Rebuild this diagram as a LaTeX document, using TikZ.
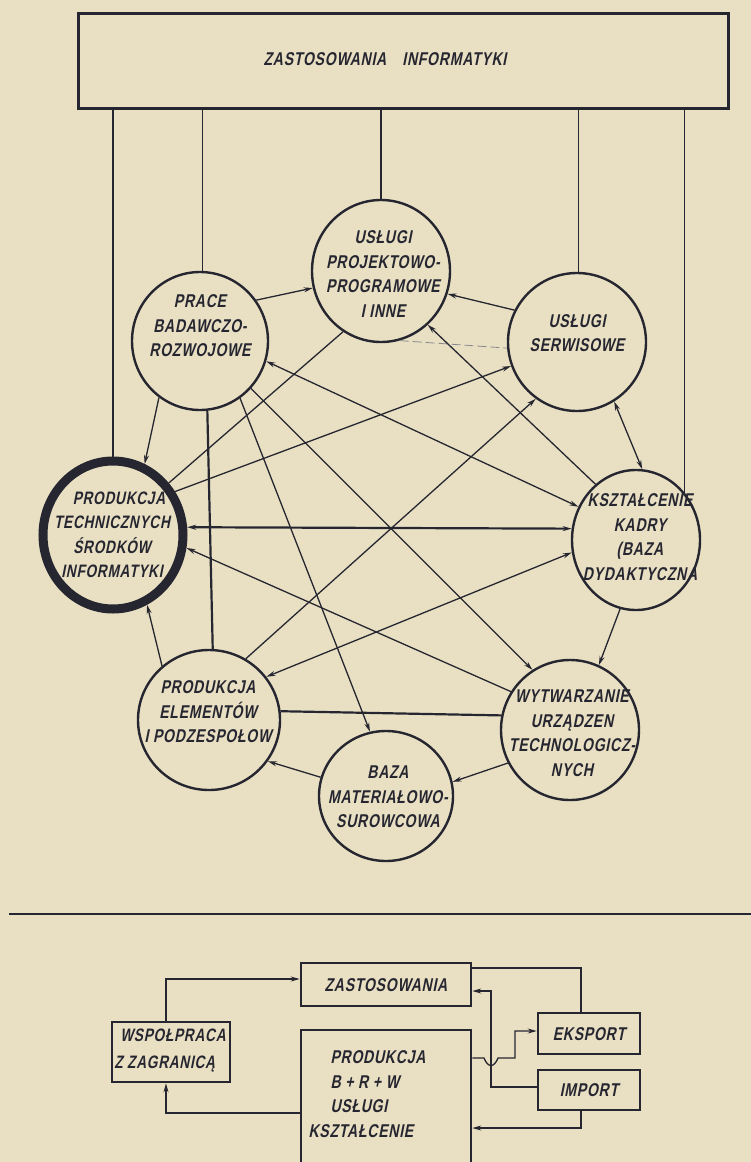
\documentclass[tikz,border=0pt]{standalone}
\usepackage{fontspec}
\setmainfont{Liberation Sans}
\newfontfamily\lett{Liberation Sans Bold}[FakeSlant=0.2,FakeStretch=0.76,LetterSpace=4]
\usetikzlibrary{shapes.geometric,arrows.meta,calc}
\definecolor{paper}{RGB}{233,224,196}
\definecolor{ink}{RGB}{38,38,48}
\begin{document}
\begin{tikzpicture}[x=1pt,y=-1pt,
  bub/.style={draw=ink, ellipse, line width=2.4pt, inner sep=0pt},
  lbl/.style={font=\lett\fontsize{18.5}{24.5}\selectfont, align=center, text=ink, inner sep=0pt},
  bx/.style={draw=ink, line width=2.6pt, inner sep=0pt},
  ln/.style={draw=ink, line width=1.3pt},
  thk/.style={draw=ink, line width=2.2pt},
  arr/.style={-{Stealth[length=9pt,width=5pt]}},
  darr/.style={{Stealth[length=9pt,width=5pt]}-{Stealth[length=9pt,width=5pt]}},
  dashln/.style={draw=ink!55, line width=0.8pt, dash pattern=on 9pt off 4pt}]
\fill[paper] (0,0) rectangle (751,1162);
\useasboundingbox (0,0) rectangle (751,1162);

% top box
\node[bx, line width=3pt, minimum width=650pt, minimum height=95pt] (top) at (403,60.5) {};
\node[lbl] (topt) at (385,59) {ZASTOSOWANIA\hspace{16pt}INFORMATYKI};

% circles
\node[bub, minimum width=138pt, minimum height=142pt] (pp) at (381,271) {};
\node[bub, minimum width=136pt, minimum height=138pt] (pr) at (200,341) {};
\node[bub, minimum width=138pt, minimum height=138pt] (se) at (577,342) {};
\node[bub, line width=9pt, minimum width=140pt, minimum height=148pt] (ts) at (113,535) {};
\node[bub, minimum width=128pt, minimum height=140pt] (ks) at (636,540) {};
\node[bub, minimum width=142pt, minimum height=140pt] (el) at (209,720) {};
\node[bub, minimum width=138pt, minimum height=140pt] (wy) at (570,730) {};
\node[bub, minimum width=134pt, minimum height=130pt] (bz) at (386,796) {};

\node[lbl] (ppt) at (383,274) {USŁUGI\\PROJEKTOWO-\\PROGRAMOWE\\I INNE};
\node[lbl] (prt) at (200,326) {PRACE\\BADAWCZO-\\ROZWOJOWE};
\node[lbl] (set) at (577,333) {USŁUGI\\SERWISOWE};
\node[lbl, font=\lett\fontsize{18}{24.5}\selectfont] (tst) at (112,535) {\hspace*{14pt}PRODUKCJA\\TECHNICZNYCH\\ŚRODKÓW\\INFORMATYKI};
\node[lbl] (kst) at (640,537) {KSZTAŁCENIE\\KADRY\\(BAZA\hspace*{30pt}\\DYDAKTYCZNA};
\node[lbl] (elt) at (208,712) {PRODUKCJA\\ELEMENTÓW\\I PODZESPOŁOW};
\node[lbl] (wyt) at (572,733) {WYTWARZANIE\\URZĄDZEN\\TECHNOLOGICZ-\\NYCH};
\node[lbl] (bzt) at (388,797) {BAZA\\MATERIAŁOWO-\\SUROWCOWA};

% lines to top box
\draw[ln] (ts.north) -- (ts.north |- top.south);
\draw[ln] (pr.88) -- (pr.88 |- top.south);
\draw[ln] (pp.north) -- (pp.north |- top.south);
\draw[ln] (se.89) -- (se.89 |- top.south);
\draw[ln] (ks.44) -- (ks.44 |- top.south);

% network
\draw[ln,arr] (pr.36) -- (pp.194);
\draw[ln,arr] (se.153) -- (pp.341);
\draw[dashln] (pp.285) -- (se.185);
\draw[ln,arr] (ks.126) -- (pp.311);
\draw[ln,arr] (pr.234) -- (ts.66);
\draw[thk] (pr.276) -- (el.87);
\draw[ln,arr] (el.131) -- (ts.296);
\draw[ln,arr] (pr.305) -- (bz.104);
\draw[ln,arr] (pr.317) -- (wy.122);
\draw[ln,darr] (pr.343) -- (ks.150);
\draw[thk,darr] (ts.6) -- (ks.170);
\draw[ln,darr] (ks.191) -- (el.37);
\draw[ln,arr] (wy.147) -- (ts.350);
\draw[thk] (el.7) -- (wy.168);
\draw[ln,arr] (bz.164) -- (el.325);
\draw[ln,arr] (wy.208) -- (bz.12);
\draw[ln,arr] (ks.257) -- (wy.66);
\draw[ln,darr] (se.302) -- (ks.85);
\draw[ln,arr] (ts.35) -- (se.200);
\draw[ln,arr] (el.59) -- (se.234);
\draw[ln] (pp.238) -- (ts.43);

% divider
\coordinate (d1) at (9,914);
\coordinate (d2) at (751,914);
\draw[thk] (d1) -- (d2);

% bottom diagram
\node[bx, minimum width=170pt, minimum height=43pt] (zast) at (386,984.5) {};
\node[lbl] (zastt) at (386,985) {ZASTOSOWANIA};
\node[bx, minimum width=118pt, minimum height=60pt] (wsp) at (171,1052) {};
\node[lbl, align=left, font=\lett\fontsize{18}{27}\selectfont] (wspt) at (170,1051) {\hspace*{6pt}WSPOŁPRACA\\Z ZAGRANICĄ};
\node[bx, minimum width=170pt, minimum height=145pt] (prod) at (386,1102.5) {};
\node[lbl, align=left] (prodt) at (378,1094) {PRODUKCJA\\B + R + W\\USŁUGI\\\hspace*{-22pt}KSZTAŁCENIE};
\node[bx, minimum width=102pt, minimum height=41pt] (eks) at (589,1033.5) {};
\node[lbl] (ekst) at (589,1034) {EKSPORT};
\node[bx, minimum width=102pt, minimum height=40pt] (imp) at (589,1090) {};
\node[lbl] (impt) at (589,1090) {IMPORT};

\coordinate (c1) at (491,991);
\coordinate (h1) at (484,1058);
\coordinate (h2) at (498,1058);
\coordinate (c2) at (515,1058);
\coordinate (c3) at (515,1031);

\draw[ln,arr] ([xshift=-5pt]wsp.north) |- ([yshift=5.5pt]zast.west);
\draw[ln,arr] ([yshift=-10.5pt]prod.west) -| ([xshift=-5pt]wsp.south);
\draw[ln] ([yshift=16.5pt]zast.east) -| ([xshift=-8pt]eks.north);
\draw[ln,arr] ([yshift=3pt]imp.west) -| (c1) -- ([yshift=-6.5pt]zast.east);
\draw[ln,arr] ([yshift=44.5pt]prod.east) -- (h1) .. controls (488,1068) and (494,1068) .. (h2) -- (c2) -- (c3) -- ([yshift=2.5pt]eks.west);
\draw[ln,arr] ([xshift=-8pt]imp.south) |- ([yshift=-25.5pt]prod.east);
\end{tikzpicture}
\end{document}
